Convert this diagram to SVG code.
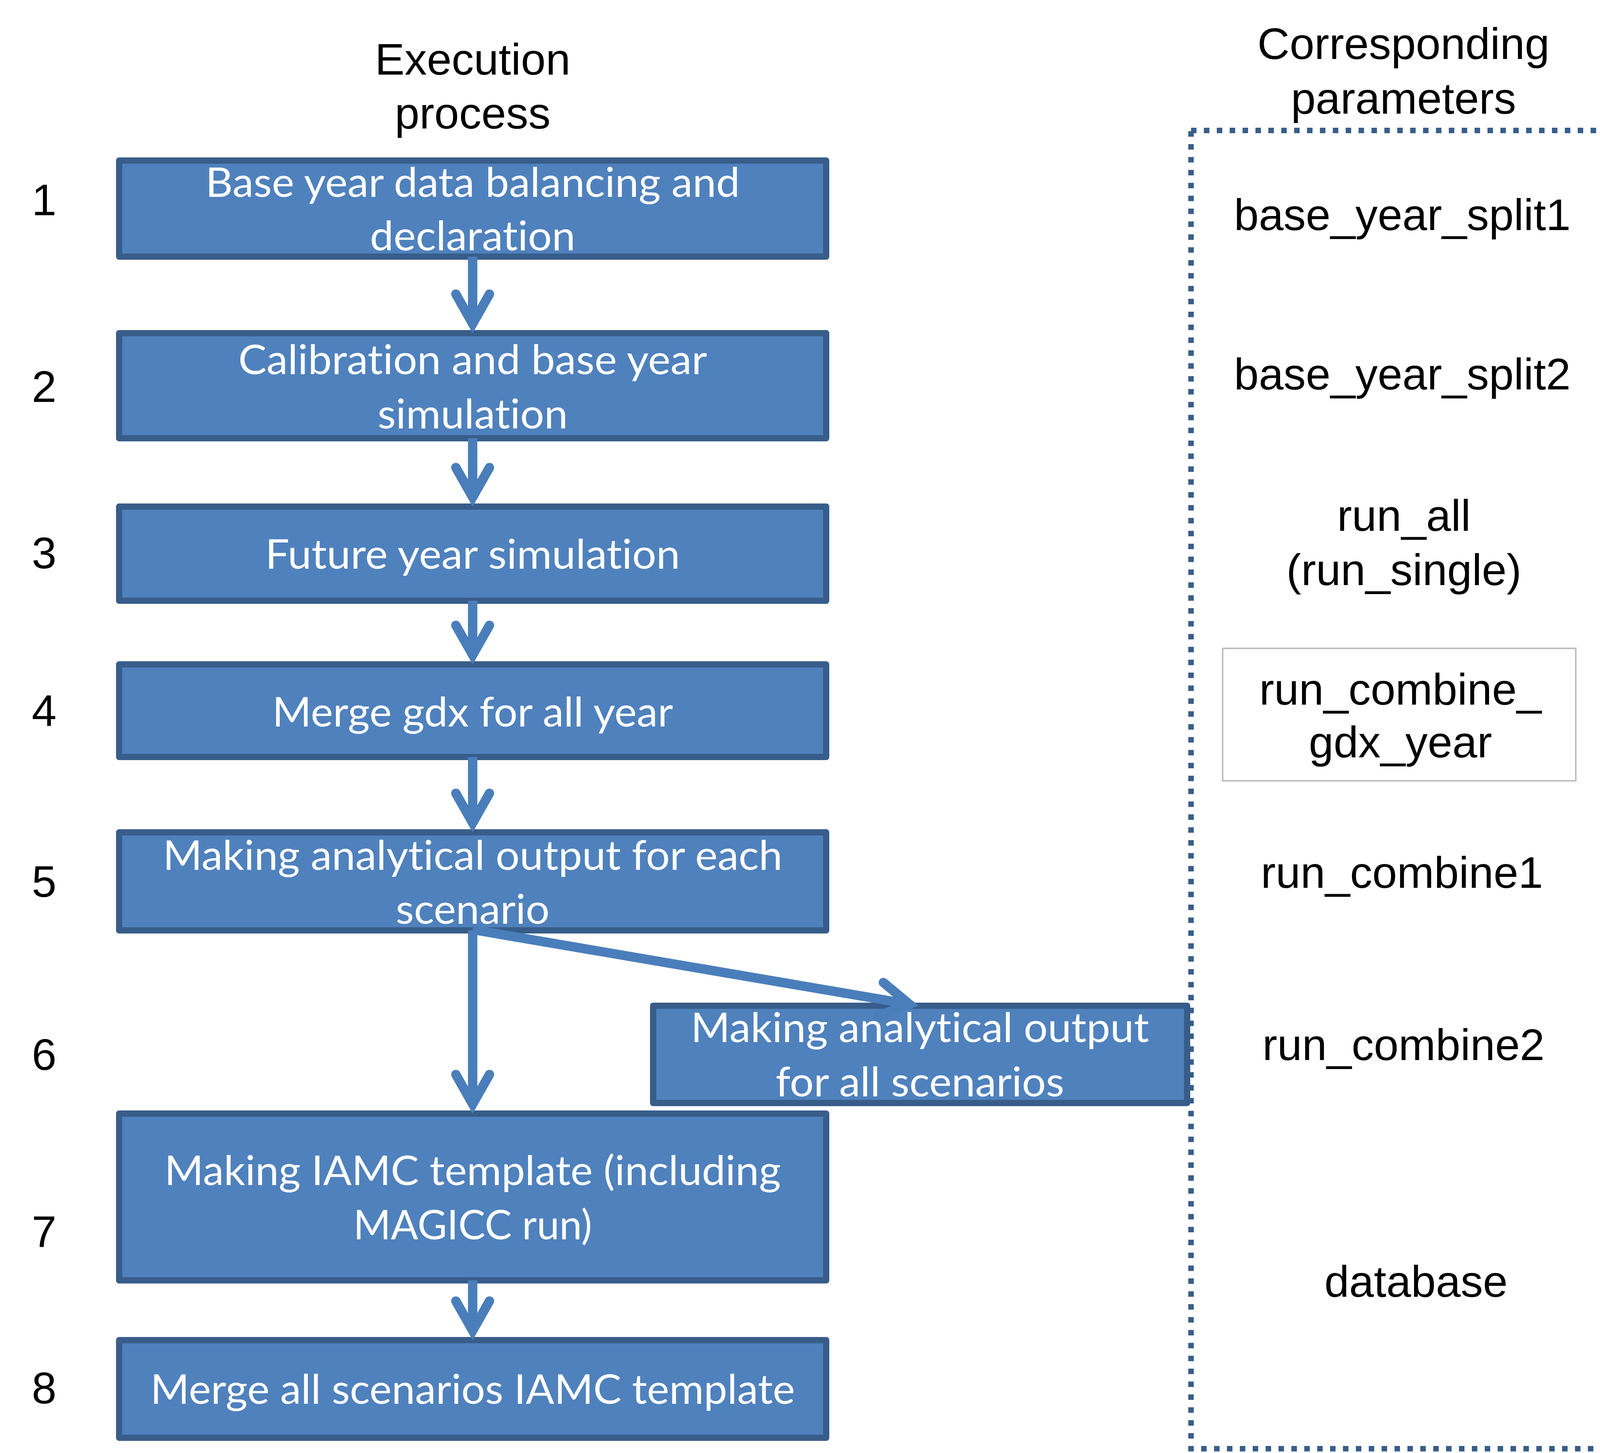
<svg xmlns="http://www.w3.org/2000/svg" width="4146" height="3720" viewBox="0 0 4146 3720">
<style>
.box{fill:#4F81BD;stroke:#385D8A;stroke-width:16;stroke-linejoin:round}
.bt{font-family:Lato,"Open Sans","DejaVu Sans",sans-serif;font-size:104px;fill:#FFFFFF;text-anchor:middle;font-variant-ligatures:none;font-feature-settings:"liga" 0,"clig" 0}
.lbl{font-family:"Liberation Sans",Arial,sans-serif;font-size:114px;fill:#000000;text-anchor:middle}
.shaft{fill:none;stroke:#4A7EBB;stroke-width:24;stroke-linecap:butt}
.head{fill:none;stroke:#4A7EBB;stroke-width:24;stroke-linecap:round;stroke-linejoin:miter;stroke-miterlimit:10}
.dotted{fill:none;stroke:#385D8A;stroke-width:14;stroke-dasharray:14 19}
.gray{fill:none;stroke:#BFBFBF;stroke-width:4}
</style>
<rect x="0" y="0" width="4146" height="3720" fill="#FFFFFF"/>

<g id="headers">
<text class="lbl" x="1210" y="191">Execution</text>
<text class="lbl" x="1210" y="329">process</text>
<text class="lbl" x="3593" y="151">Corresponding</text>
<text class="lbl" x="3593" y="291">parameters</text>
</g>

<g id="step-numbers">
<text class="lbl" x="113" y="551">1</text>
<text class="lbl" x="113" y="1029">2</text>
<text class="lbl" x="113" y="1455">3</text>
<text class="lbl" x="113" y="1859">4</text>
<text class="lbl" x="113" y="2296">5</text>
<text class="lbl" x="113" y="2739">6</text>
<text class="lbl" x="113" y="3193">7</text>
<text class="lbl" x="113" y="3593">8</text>
</g>

<g id="params-frame">
<rect class="dotted" x="3049" y="334" width="1088" height="3375"/>
</g>

<g id="node1">
<rect class="box" x="305" y="411" width="1810" height="246"/>
<text class="bt" x="1210" y="504" textLength="1368" lengthAdjust="spacingAndGlyphs">Base year data balancing and</text>
<text class="bt" x="1210" y="641" textLength="526" lengthAdjust="spacingAndGlyphs">declaration</text>
</g>
<g id="node2">
<rect class="box" x="305" y="853" width="1810" height="269"/>
<text class="bt" x="1210" y="958" textLength="1200" lengthAdjust="spacingAndGlyphs">Calibration and base year</text>
<text class="bt" x="1210" y="1097" textLength="487" lengthAdjust="spacingAndGlyphs">simulation</text>
</g>
<g id="node3">
<rect class="box" x="305" y="1297" width="1810" height="241"/>
<text class="bt" x="1210" y="1456" textLength="1062" lengthAdjust="spacingAndGlyphs">Future year simulation</text>
</g>
<g id="node4">
<rect class="box" x="305" y="1701" width="1810" height="237"/>
<text class="bt" x="1210" y="1860" textLength="1026" lengthAdjust="spacingAndGlyphs">Merge gdx for all year</text>
</g>
<g id="node5">
<rect class="box" x="305" y="2131" width="1810" height="251"/>
<text class="bt" x="1210" y="2227" textLength="1586" lengthAdjust="spacingAndGlyphs">Making analytical output for each</text>
<text class="bt" x="1210" y="2365" textLength="394" lengthAdjust="spacingAndGlyphs">scenario</text>
</g>
<g id="node6">
<rect class="box" x="1672" y="2575" width="1367" height="249"/>
<text class="bt" x="2355" y="2668" textLength="1173" lengthAdjust="spacingAndGlyphs">Making analytical output</text>
<text class="bt" x="2355" y="2807" textLength="739" lengthAdjust="spacingAndGlyphs">for all scenarios</text>
</g>
<g id="node7">
<rect class="box" x="305" y="2851" width="1810" height="427"/>
<text class="bt" x="1210" y="3034" textLength="1578" lengthAdjust="spacingAndGlyphs">Making IAMC template (including</text>
<text class="bt" x="1210" y="3173" textLength="611" lengthAdjust="spacingAndGlyphs">MAGICC run)</text>
</g>
<g id="node8">
<rect class="box" x="305" y="3431" width="1810" height="250"/>
<text class="bt" x="1210" y="3594" textLength="1650" lengthAdjust="spacingAndGlyphs">Merge all scenarios IAMC template</text>
</g>

<g id="parameters">
<text class="lbl" x="3590" y="589">base_year_split1</text>
<text class="lbl" x="3590" y="997">base_year_split2</text>
<text class="lbl" x="3594" y="1359">run_all</text>
<text class="lbl" x="3594" y="1498">(run_single)</text>
<g id="param-combine-gdx">
<rect class="gray" x="3130" y="1660" width="904" height="339"/>
<text class="lbl" x="3585" y="1804">run_combine_</text>
<text class="lbl" x="3585" y="1939">gdx_year</text>
</g>
<text class="lbl" x="3589" y="2273">run_combine1</text>
<text class="lbl" x="3593" y="2714">run_combine2</text>
<text class="lbl" x="3625" y="3320">database</text>
</g>

<g id="connectors">
<path class="shaft" d="M1210,657 L1210,829"/>
<path class="head" d="M1167,753 L1210,829 L1253,753"/>
<path class="shaft" d="M1210,1122 L1210,1273"/>
<path class="head" d="M1167,1197 L1210,1273 L1253,1197"/>
<path class="shaft" d="M1210,1538 L1210,1677"/>
<path class="head" d="M1167,1601 L1210,1677 L1253,1601"/>
<path class="shaft" d="M1210,1938 L1210,2107"/>
<path class="head" d="M1167,2031 L1210,2107 L1253,2031"/>
<path class="shaft" d="M1210,2382 L1210,2827"/>
<path class="head" d="M1167,2751 L1210,2827 L1253,2751"/>
<path class="shaft" d="M1210,2380 L2328.3,2571"/>
<path class="head" d="M2261.4,2515.4 L2328.3,2571 L2246.7,2601.2"/>
<path class="shaft" d="M1210,3278 L1210,3407"/>
<path class="head" d="M1167,3331 L1210,3407 L1253,3331"/>
</g>
</svg>
